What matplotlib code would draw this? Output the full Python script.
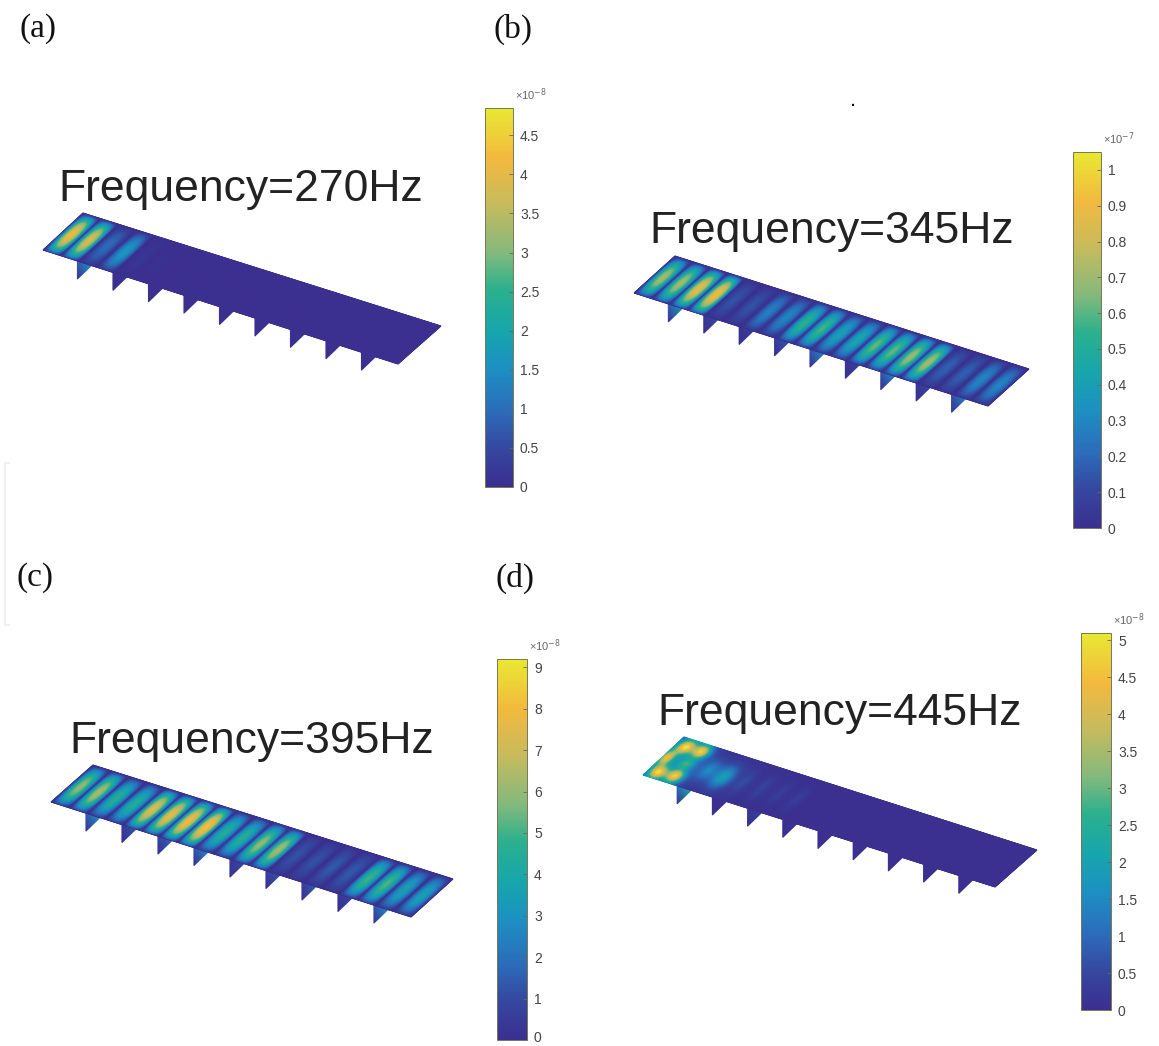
import numpy as np
import matplotlib
matplotlib.use("Agg")
import matplotlib.pyplot as plt
from matplotlib.colors import LinearSegmentedColormap, Normalize
from matplotlib.cm import ScalarMappable
from matplotlib.transforms import ScaledTranslation

W, H = 1159, 1046

# peak height of each half wave along the plate (2 per bay, 20 in all)
lobes_a = [4.2, 3.9, 1.0, 1.7, 0.15, 0.05, 0.03, 0.02, 0.02, 0.02,
           0.02, 0.02, 0.02, 0.02, 0.01, 0.01, 0.01, 0.01, 0.01, 0.01]
lobes_b = [0.72, 0.72, 0.88, 0.92, 0.14, 0.14, 0.28, 0.3, 0.55, 0.58,
           0.42, 0.45, 0.62, 0.62, 0.7, 0.72, 0.18, 0.18, 0.3, 0.3]
lobes_c = [6.0, 6.4, 4.6, 4.5, 7.5, 7.7, 8.0, 8.3, 4.5, 4.6,
           6.0, 6.3, 1.2, 1.2, 1.4, 1.4, 5.0, 5.2, 3.6, 3.6]

# panel d is not a plain stripe pattern, so peaks are listed one by one
peak_u = [0.027, 0.070, 0.011, 0.066, 0.025, 0.070, 0.127, 0.174, 0.23, 0.28, 0.33, 0.38]
peak_v = [0.83, 0.83, 0.50, 0.50, 0.16, 0.19, 0.51, 0.47, 0.5, 0.5, 0.5, 0.5]
peak_amp = [3.3, 3.3, 2.8, 1.4, 3.3, 3.3, 1.0, 1.5, 0.4, 0.35, 0.25, 0.25]
peak_su = [0.019, 0.019, 0.015, 0.02, 0.019, 0.019, 0.02, 0.024, 0.016, 0.016, 0.016, 0.016]
peak_sv = [0.15, 0.15, 0.17, 0.11, 0.15, 0.15, 0.24, 0.26, 0.3, 0.3, 0.3, 0.3]

# colour at the top of each of the 9 stiffeners
fins_a = [1.6, 0.1, 0.05, 0.02, 0.02, 0.02, 0.02, 0.02, 0.02]
fins_b = [0.36, 0.1, 0.06, 0.14, 0.3, 0.08, 0.3, 0.1, 0.28]
fins_c = [3.0, 1.2, 1.6, 2.6, 1.0, 1.2, 1.4, 0.8, 2.8]
fins_d = [2.2, 0.05, 0.4, 0.1, 0.02, 0.02, 0.02, 0.02, 0.02]

vmax_list = [4.85, 1.05, 9.2, 5.1]
ticks_a = np.arange(0, 5, 0.5)
ticks_b = np.arange(0, 1.05, 0.1)
ticks_c = np.arange(0, 10, 1)
ticks_d = np.arange(0, 5.5, 0.5)
ticklabels_a = ["0", "0.5", "1", "1.5", "2", "2.5", "3", "3.5", "4", "4.5"]
ticklabels_b = ["0", "0.1", "0.2", "0.3", "0.4", "0.5", "0.6", "0.7", "0.8", "0.9", "1"]
ticklabels_c = ["0", "1", "2", "3", "4", "5", "6", "7", "8", "9"]
ticklabels_d = ["0", "0.5", "1", "1.5", "2", "2.5", "3", "3.5", "4", "4.5", "5"]
exponents = ["-8", "-7", "-8", "-8"]
titles = ["Frequency=270Hz", "Frequency=345Hz", "Frequency=395Hz", "Frequency=445Hz"]

parula = LinearSegmentedColormap.from_list("parula_print", [
    (0.00, "#3b2f8f"), (0.10, "#35479f"), (0.20, "#2c6cba"), (0.31, "#1d8fc2"),
    (0.41, "#17a5ad"), (0.52, "#2bb08d"), (0.62, "#84b97c"), (0.75, "#c8bb5c"),
    (0.87, "#f3b93e"), (1.00, "#e8e832")])

# plate corners in pixels: front-left, back-left, back-right, front-right
corners = [
    [(43, 250), (83, 213), (441, 326), (398, 364)],
    [(634, 293), (675, 256), (1029, 369), (988, 406)],
    [(51, 802), (93, 765), (453, 879), (411, 917)],
    [(643, 775), (684, 737), (1037, 850), (995, 887)],
]
bars = [(485, 108, 28, 379), (1073, 152, 28, 376), (497, 659, 30, 381), (1081, 633, 30, 377)]
title_pos = [(241, 189), (832, 232), (252, 742), (840, 714)]
label_pos = [(38, 29), (513, 29), (35, 578), (515, 578)]
labels = ["(a)", "(b)", "(c)", "(d)"]

fig = plt.figure(figsize=(W / 100, H / 100), dpi=100)
ax = fig.add_axes([0, 0, 1, 1])
ax.set_xlim(0, W)
ax.set_ylim(H, 0)
ax.axis("off")


def stripes(amps, u, v):
    idx = np.clip((u * 20).astype(int), 0, 19)
    return np.array(amps)[idx] * np.abs(np.sin(20 * np.pi * u)) ** 0.8 * np.sin(np.pi * v) ** 0.6


def peaks(u, v):
    z = np.zeros_like(u)
    for pu, pv, a, su, sv in zip(peak_u, peak_v, peak_amp, peak_su, peak_sv):
        r2 = ((u - pu) / su) ** 2 + ((v - pv) / sv) ** 2
        # core plus a soft halo round it
        z += a * np.exp(-r2) + 0.3 * a * np.exp(-r2 / 3)
    return z + 0.5 * np.exp(-(u / 0.1) ** 4)


def plate(c, z_func, vmax, fins):
    fl, bl, br, fr = [np.array(p, float) for p in c]
    u, v = np.meshgrid(np.linspace(0, 1, 600), np.linspace(0, 1, 60))
    x = (1 - v) * ((1 - u) * fl[0] + u * fr[0]) + v * ((1 - u) * bl[0] + u * br[0])
    y = (1 - v) * ((1 - u) * fl[1] + u * fr[1]) + v * ((1 - u) * bl[1] + u * br[1])
    z = z_func(u, v)

    # stiffeners hang under the front edge
    for i, a in enumerate(fins):
        t = (i + 1) * 0.1 - 0.003
        top = fl + t * (fr - fl)
        px = [top[0], top[0], top[0] + 14]
        py = [top[1], top[1] + 18, top[1] + 4.5]
        ax.tripcolor(px, py, [[0, 1, 2]], [a * 0.5, 0, a], cmap=parula, vmin=0, vmax=vmax,
                     shading="gouraud", zorder=2)
    ax.pcolormesh(x, y, z, cmap=parula, vmin=0, vmax=vmax, shading="gouraud", zorder=3)


plate(corners[0], lambda u, v: stripes(lobes_a, u, v), vmax_list[0], fins_a)
plate(corners[1], lambda u, v: stripes(lobes_b, u, v), vmax_list[1], fins_b)
plate(corners[2], lambda u, v: stripes(lobes_c, u, v), vmax_list[2], fins_c)
plate(corners[3], peaks, vmax_list[3], fins_d)

all_ticks = [ticks_a, ticks_b, ticks_c, ticks_d]
all_labels = [ticklabels_a, ticklabels_b, ticklabels_c, ticklabels_d]
for i in range(4):
    bx, by, bw, bh = bars[i]
    cax = fig.add_axes([bx / W, 1 - (by + bh) / H, bw / W, bh / H])
    sm = ScalarMappable(norm=Normalize(0, vmax_list[i]), cmap=parula)
    cb = fig.colorbar(sm, cax=cax)
    cb.set_ticks(all_ticks[i])
    cb.set_ticklabels(all_labels[i])
    cb.ax.tick_params(direction="in", length=3, width=0.6, color="#666666", labelsize=10,
                      labelcolor="#444444", pad=5)
    for lab in cb.ax.get_yticklabels():
        lab.set_family("Liberation Sans")
    cb.outline.set_edgecolor("#777755")
    cb.outline.set_linewidth(0.7)
    ax.text(bx + bw + 2, by - 13, "\u00d710$^{" + exponents[i] + "}$", fontsize=8, color="#666666",
            family="Liberation Sans", ha="left", va="center")

    ax.text(title_pos[i][0], title_pos[i][1], titles[i], fontsize=32, color="#222222",
            family="Liberation Sans", ha="center", va="center")
    ax.text(label_pos[i][0], label_pos[i][1], labels[i], fontsize=24, color="#111111",
            family="Liberation Serif", ha="center", va="center")

    # the 0 of panel c sits on the bottom edge of the page, keep it inside
    if i == 2:
        first = cb.ax.get_yticklabels()[0]
        first.set_transform(first.get_transform() + ScaledTranslation(0, 3 / 100, fig.dpi_scale_trans))

# stray dot and faint scan marks of the source page
ax.text(853, 100, ".", fontsize=16, color="black", family="Liberation Sans", ha="center", va="center")
ax.plot([9, 5, 5, 9], [463, 463, 625, 625], color="#f0f0f0", lw=1.5)

fig.savefig("out.png", dpi=100)
